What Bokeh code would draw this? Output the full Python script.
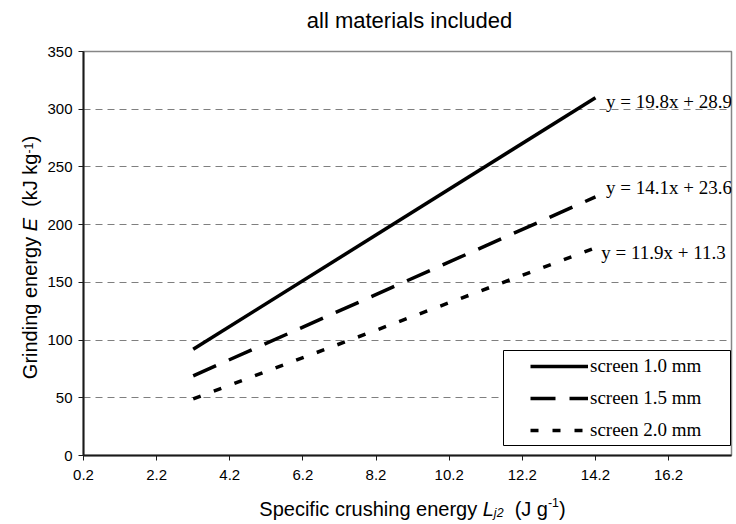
import math
from bokeh.plotting import figure
from bokeh.layouts import row, column
from bokeh.models import (Label, Legend, LegendItem, FixedTicker, Range1d,
                          BoxAnnotation)
from bokeh.embed import file_html
from bokeh.resources import INLINE

# ---------------- data ----------------
chart_title = "all materials included"
x_ends = [3.2, 14.2]                       # L_j2 (J/g), start/end of fitted lines
y_screen_10 = [92, 310]                    # screen 1.0 mm
y_screen_15 = [69, 224]                    # screen 1.5 mm
y_screen_20 = [49, 180]                    # screen 2.0 mm
series_names = ["screen 1.0 mm", "screen 1.5 mm", "screen 2.0 mm"]
equations = ["y = 19.8x + 28.9", "y = 14.1x + 23.6", "y = 11.9x + 11.3"]
x_ticks = [0.2, 2.2, 4.2, 6.2, 8.2, 10.2, 12.2, 14.2, 16.2]
x_tick_labels = ["0.2", "2.2", "4.2", "6.2", "8.2", "10.2", "12.2", "14.2", "16.2"]
y_ticks = [0, 50, 100, 150, 200, 250, 300, 350]
grid_values = [50, 100, 150, 200, 250, 300]

SANS = "Liberation Sans"
SERIF = "Liberation Serif"

# approximate Arial advance widths (per 1000 em) for label layout
AW = {' ': 278, '(': 333, ')': 333, '-': 333, '1': 556, '2': 556, 'E': 667,
      'G': 778, 'J': 500, 'L': 556, 'S': 667, 'a': 556, 'c': 500, 'd': 556,
      'e': 556, 'f': 278, 'g': 556, 'h': 556, 'i': 222, 'j': 222, 'k': 500,
      'n': 556, 'p': 556, 'r': 333, 's': 500, 'u': 556, 'y': 500}
DESC = 0.212   # Arial descent (em)


def tw(s, size):
    return sum(AW.get(c, 556) for c in s) * size / 1000.0


W, H = 736, 524
LW = 44            # width of the y-label strip
TH = 41            # height of the title strip
MAIN_H = 448       # main plot height (page y 41 .. 489)
XH = H - TH - MAIN_H
FL, FR, FT, FB = 82, 734, 51, 455   # frame edges in page px


def text_fig(w, h, **kw):
    f = figure(width=w, height=h, output_backend="svg", toolbar_location=None,
               x_axis_location=None, y_axis_location=None,
               x_range=Range1d(0, 1), y_range=Range1d(0, 1),
               background_fill_color="white", border_fill_color="white", **kw)
    f.outline_line_color = None
    f.xgrid.visible = False
    f.ygrid.visible = False
    return f


# ---------------- main plot ----------------
p = figure(width=W - LW, height=MAIN_H, output_backend="svg",
           toolbar_location=None,
           x_range=Range1d(0.2, 17.92), y_range=Range1d(0, 350),
           min_border_left=FL - LW, min_border_right=W - FR,
           min_border_top=FT - TH, min_border_bottom=TH + MAIN_H - FB,
           background_fill_color="white", border_fill_color="white")
p.outline_line_color = "#868686"
p.outline_line_width = 1.5

for ax in (p.xaxis[0], p.yaxis[0]):
    ax.axis_line_color = "#1a1a1a"
    ax.axis_line_width = 2
    ax.major_tick_line_color = "#1a1a1a"
    ax.major_tick_line_width = 1
    ax.major_tick_in = 0
    ax.major_tick_out = 5
    ax.minor_tick_line_color = None
    ax.major_label_text_font = SANS
    ax.major_label_text_font_size = "15px"
    ax.major_label_text_color = "black"
p.xaxis.ticker = FixedTicker(ticks=x_ticks)
p.xaxis.major_label_overrides = {t: l for t, l in zip(x_ticks, x_tick_labels)}
p.xaxis.major_label_standoff = 9
p.yaxis.ticker = FixedTicker(ticks=y_ticks)
p.yaxis.major_label_standoff = 6

p.xgrid.visible = False
p.ygrid.ticker = FixedTicker(ticks=grid_values)
p.ygrid.grid_line_color = "#7f7f7f"
p.ygrid.grid_line_width = 1
p.ygrid.grid_line_dash = "7 5"

r1 = p.line(x_ends, y_screen_10, line_color="black", line_width=3.5)
r2 = p.line(x_ends, y_screen_15, line_color="black", line_width=3.5,
            line_dash="25 14")
r3 = p.line(x_ends, y_screen_20, line_color="black", line_width=3.5,
            line_dash="8 14")

eq_offsets = [-3, 8, -4]
eq_dx = [0.29, 0.29, 0.16]
for txt, ys, dy, dx in zip(equations, [y_screen_10, y_screen_15, y_screen_20],
                           eq_offsets, eq_dx):
    p.add_layout(Label(x=x_ends[1] + dx, y=ys[1] + dy, text=txt,
                       text_font=SERIF, text_font_size="19px",
                       text_color="black", text_baseline="middle",
                       text_align="left"))

p.add_layout(BoxAnnotation(left=502 - FL, right=729 - FL,
                           bottom=FB - 445, top=FB - 350,
                           left_units="screen", right_units="screen",
                           bottom_units="screen", top_units="screen",
                           fill_color="white", fill_alpha=1.0,
                           line_color="black", line_width=1, line_alpha=1.0))
legend = Legend(items=[LegendItem(label=n, renderers=[r])
                       for n, r in zip(series_names, [r1, r2, r3])],
                location=(502 - FL, -13), padding=27, spacing=10,
                glyph_width=58, glyph_height=22, label_height=22,
                label_standoff=2, border_line_alpha=0,
                background_fill_alpha=0,
                label_text_font=SERIF, label_text_font_size="19px",
                label_text_color="black")
p.add_layout(legend)

# text strips: their frames line up with the main frame (x from 82 to 734)
tf = text_fig(W - LW, TH, min_border_top=0, min_border_bottom=0)
tf.add_layout(Label(x=408 - FL, y=TH - 20, x_units="screen", y_units="screen",
                    text=chart_title, text_font=SANS, text_font_size="22px",
                    text_color="black", text_align="center",
                    text_baseline="middle"))


def place_parts(fig, parts, start, base, vertical):
    pos = start
    for t, style, s, off in parts:
        lead = len(t) - len(t.lstrip(" "))
        pos_t = pos + tw(" " * lead, s)
        core = t.strip(" ")
        if vertical:
            # anchor at the bottom of the em box (baseline + descent)
            kw = dict(x=base - off + DESC * s, y=pos_t, angle=math.pi / 2,
                      angle_units="rad", text_baseline="bottom")
        else:
            kw = dict(x=pos_t, y=base + off, text_baseline="alphabetic")
        fig.add_layout(Label(x_units="screen", y_units="screen", text=core,
                             text_font=SANS, text_font_style=style,
                             text_font_size=f"{s:.1f}px", text_color="black",
                             text_align="left", **kw))
        pos += tw(t, s)


fs = 20
sub = 0.62 * fs

# x-axis label
xf = text_fig(W - LW, XH, min_border_top=0, min_border_bottom=0)
parts_x = [("Specific crushing energy ", "normal", fs, 0),
           ("L", "italic", fs, 0),
           ("j2", "italic", sub, -4),
           ("  (J g", "normal", fs, 0),
           ("-1", "normal", sub, 6),
           (")", "normal", fs, 0)]
total = sum(tw(t, s) for t, _, s, _ in parts_x)
place_parts(xf, parts_x, 411 - FL - total / 2, H - 508, False)

# y-axis label (rotated), baseline at page x = 36
yf = text_fig(LW, H, min_border_left=0, min_border_right=0,
              min_border_top=0, min_border_bottom=0)
parts_y = [("Grinding energy ", "normal", fs, 0),
           ("E", "italic", fs, 0),
           ("  (kJ kg", "normal", fs, 0),
           ("-1", "normal", sub, 6),
           (")", "normal", fs, 0)]
total = sum(tw(t, s) for t, _, s, _ in parts_y)
place_parts(yf, parts_y, (H - 257) - total / 2, 36, True)

layout = row(yf, column(tf, p, xf))
open("out.html", "w").write(file_html(layout, INLINE))
